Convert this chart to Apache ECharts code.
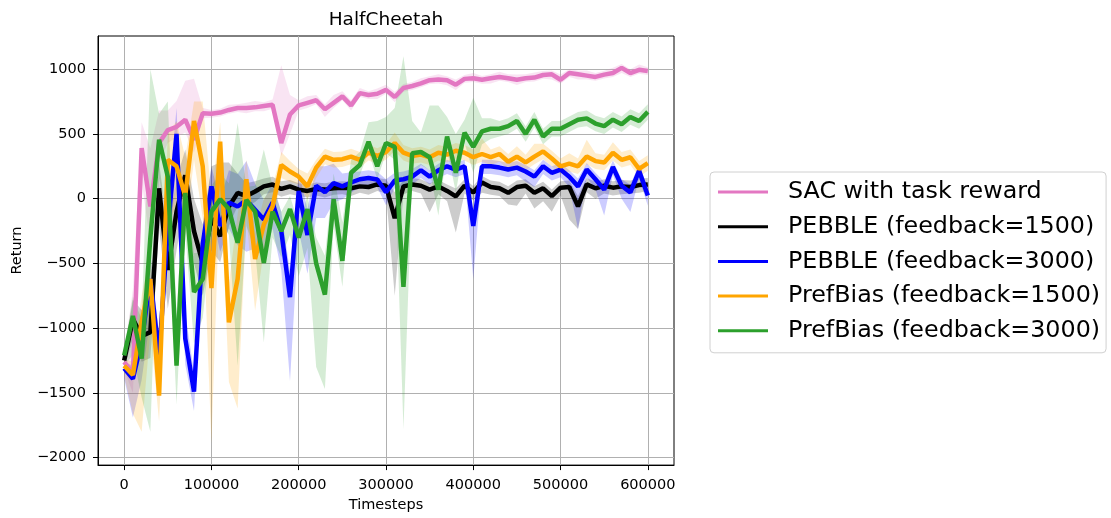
<!DOCTYPE html>
<html>
<head>
<meta charset="utf-8">
<script src="https://cdn.jsdelivr.net/npm/echarts@6/dist/echarts.min.js"></script>
<style>
html,body{margin:0;padding:0;background:#fff;}
#chart{width:1111px;height:518px;}
</style>
</head>
<body>
<div id="chart"></div>
<script>
// ---------------- data ----------------
const STEP = 10000;
const timesteps = Array.from({length: 61}, (_, i) => i * STEP);
const xTicks = [0, 100000, 200000, 300000, 400000, 500000, 600000];
const yTicks = [-2000, -1500, -1000, -500, 0, 500, 1000];

const seriesNames = ['SAC with task reward', 'PEBBLE (feedback=1500)', 'PEBBLE (feedback=3000)', 'PrefBias (feedback=1500)', 'PrefBias (feedback=3000)'];

const sac = [-1260,-1350,390,-60,430,530,555,610,455,660,655,665,685,700,700,705,715,725,430,650,720,740,760,690,740,790,720,815,800,810,840,785,855,870,890,915,920,915,880,925,930,918,930,940,930,918,930,935,955,960,918,970,960,950,940,958,970,1010,970,995,985];
const sacDown = [60,150,250,300,150,100,80,100,100,40,30,30,30,30,40,30,40,30,100,150,40,40,30,60,40,30,40,30,30,40,30,40,30,30,30,30,30,40,40,30,30,30,40,30,30,40,30,30,30,40,30,30,40,30,30,30,30,40,30,30,30];
const sacUp = [60,650,200,450,250,150,200,300,470,40,30,30,40,30,40,50,30,40,600,150,40,50,40,40,60,40,40,40,30,40,40,40,30,30,40,30,40,30,40,30,40,30,30,40,30,40,30,40,30,30,40,30,30,40,30,30,40,30,30,40,30];

const pebble1500 = [-1250,-930,-1060,-1030,80,-550,-100,180,-250,-500,-150,-290,-60,45,20,55,95,110,75,95,70,60,75,70,80,85,80,95,90,110,100,-150,95,110,100,70,95,60,18,100,48,125,90,80,45,90,100,45,80,20,85,90,-60,110,80,100,85,95,90,105,110];
const pebble1500Down = [60,150,200,200,300,300,300,200,250,250,250,200,150,100,80,80,60,60,60,60,50,50,50,60,50,50,60,50,60,50,60,600,60,50,60,175,60,80,280,60,60,80,60,60,90,145,60,120,100,120,60,250,175,60,80,60,60,60,50,60,50];
const pebble1500Up = [60,150,200,250,200,300,250,200,250,300,400,570,340,150,100,80,60,60,60,50,50,50,50,50,50,50,50,50,50,50,50,200,50,50,50,50,50,50,60,50,50,50,50,50,50,50,50,50,50,50,50,50,80,50,50,50,50,50,50,50,50];

const pebble3000 = [-1310,-1390,-1100,-620,-1210,-235,500,-1080,-1490,-350,95,-210,-30,-60,-10,-85,-160,-30,-250,-760,60,-280,100,50,120,95,125,150,160,148,50,140,150,170,220,170,220,250,225,250,-210,250,250,240,225,240,210,170,250,200,225,170,95,225,150,70,245,100,48,215,25];
const pebble3000Down = [80,300,300,300,200,200,300,200,150,100,200,200,200,300,400,300,300,200,300,650,300,300,250,200,150,100,80,60,60,60,100,60,60,60,60,60,60,60,60,60,410,60,60,60,60,60,80,80,60,60,60,80,330,60,80,200,60,100,150,60,80];
const pebble3000Up = [50,100,150,200,150,200,200,200,150,100,150,200,250,250,300,200,150,150,150,200,150,200,150,200,150,100,80,60,60,60,100,60,60,60,50,50,50,50,50,50,60,50,50,50,50,50,50,50,50,50,50,50,60,50,50,60,50,50,60,50,60];

const prefbias1500 = [-1290,-1360,-950,-620,-1520,300,250,20,600,250,-690,440,-955,-620,150,-465,-200,-60,260,210,170,95,240,325,300,305,325,300,355,330,360,430,355,330,340,320,355,340,370,355,320,345,320,345,285,325,280,325,365,310,250,270,250,325,290,280,355,300,320,230,275];
const prefbias1500Down = [80,300,850,400,200,500,300,300,300,400,1200,300,460,1000,300,400,200,150,100,80,60,100,80,60,60,60,60,60,60,60,60,60,60,60,60,60,60,60,60,60,60,60,60,60,60,60,60,60,60,60,60,60,60,60,60,60,60,60,60,60,60];
const prefbias1500Up = [50,100,200,200,300,200,350,300,150,500,700,150,300,500,150,200,200,150,100,80,60,100,60,60,60,60,60,60,60,60,60,80,60,60,60,60,60,60,60,60,60,120,60,60,60,80,60,100,60,60,60,80,60,130,60,60,80,60,60,60,60];

const prefbias3000 = [-1210,-905,-1235,-300,455,170,-1290,45,-720,-620,-100,-5,-80,-340,-10,-100,-495,-100,-250,-80,-300,-80,-500,-740,-5,-480,200,260,440,250,430,400,-680,350,360,320,70,480,200,510,400,520,540,540,560,600,500,610,480,540,540,575,610,620,580,560,610,575,630,600,670];
const prefbias3000Down = [80,300,300,1500,300,300,300,300,400,300,200,150,200,950,200,300,615,200,200,200,300,300,800,730,200,200,100,80,80,100,80,100,1100,200,100,100,200,100,150,80,200,100,80,60,60,60,60,60,60,60,60,60,60,60,60,60,60,60,60,60,60];
const prefbias3000Up = [50,150,300,1300,200,580,400,200,300,200,200,200,200,925,100,200,875,200,150,100,100,100,200,300,200,300,100,100,150,350,200,300,1780,250,150,400,650,150,300,100,380,100,80,60,60,60,60,60,60,60,60,60,60,60,60,60,60,60,60,60,60];

const colors = ['#e377c2', '#000000', '#0000ff', '#ffa500', '#2ca02c'];
const bandColors = ['#e377c2', '#000000', '#0000ff', '#ffa500', '#2ca02c'];

// ---------------- chart ----------------
const means = [sac, pebble1500, pebble3000, prefbias1500, prefbias3000];
const downs = [sacDown, pebble1500Down, pebble3000Down, prefbias1500Down, prefbias3000Down];
const ups = [sacUp, pebble1500Up, pebble3000Up, prefbias1500Up, prefbias3000Up];

const FONT = 'DejaVu Sans';
const fmt = v => (v < 0 ? '\u2212' + (-v) : String(v));

const series = [];
means.forEach((m, k) => {
  series.push({
    name: seriesNames[k] + ' band',
    type: 'custom',
    coordinateSystem: 'cartesian2d',
    silent: true,
    clip: true,
    z: 2,
    data: [[0, 0]],
    renderItem: (params, api) => {
      const pts = [];
      for (let i = 0; i < timesteps.length; i++) pts.push(api.coord([timesteps[i], m[i] + ups[k][i]]));
      for (let i = timesteps.length - 1; i >= 0; i--) pts.push(api.coord([timesteps[i], m[i] - downs[k][i]]));
      return {type: 'polygon', shape: {points: pts}, style: {fill: bandColors[k], opacity: 0.2}};
    }
  });
});
means.forEach((m, k) => {
  series.push({
    name: seriesNames[k],
    type: 'line',
    z: 3,
    symbol: 'none',
    clip: true,
    color: colors[k],
    lineStyle: {color: colors[k], width: 4.5},
    data: timesteps.map((t, i) => [t, m[i]])
  });
});

const chart = echarts.init(document.getElementById('chart'), null, {renderer: 'canvas'});
chart.setOption({
  animation: false,
  backgroundColor: '#ffffff',
  textStyle: {fontFamily: FONT},
  title: {
    text: 'HalfCheetah',
    left: 386, top: 11, padding: 0,
    textAlign: 'center',
    textStyle: {fontFamily: FONT, fontSize: 18.5, fontWeight: 'normal', color: '#000'}
  },
  grid: {left: 98, right: 437, top: 36, bottom: 51, show: true, borderColor: '#000', borderWidth: 1, backgroundColor: 'transparent'},
  legend: {
    data: seriesNames,
    orient: 'vertical',
    left: 710, top: 172,
    padding: [6, 6, 8, 8],
    itemWidth: 50, itemHeight: 3,
    itemGap: 6.7,
    icon: 'rect',
    backgroundColor: '#fff',
    borderColor: '#d0d0d0', borderWidth: 1, borderRadius: 4,
    textStyle: {fontFamily: FONT, fontSize: 23.8, lineHeight: 28, color: '#000', padding: [0, 0, 0, 15]}
  },
  xAxis: {
    type: 'value', min: -30000, max: 630000,
    name: 'Timesteps', nameLocation: 'middle', nameGap: 32,
    nameTextStyle: {fontFamily: FONT, fontSize: 14.5, color: '#000'},
    axisLine: {show: true, onZero: false, lineStyle: {color: '#000', width: 1}},
    axisTick: {show: true, inside: false, length: 5, lineStyle: {color: '#000', width: 1}, customValues: xTicks},
    axisLabel: {fontFamily: FONT, fontSize: 14.5, color: '#000', margin: 13, formatter: fmt, customValues: xTicks},
    splitLine: {show: true, lineStyle: {color: '#b0b0b0', width: 1}}
  },
  yAxis: {
    type: 'value', min: -2057, max: 1256,
    name: 'Return', nameLocation: 'middle', nameGap: 73, nameRotate: 90,
    nameTextStyle: {fontFamily: FONT, fontSize: 14.5, color: '#000'},
    axisLine: {show: true, onZero: false, lineStyle: {color: '#000', width: 1}},
    axisTick: {show: true, inside: false, length: 5, lineStyle: {color: '#000', width: 1}, customValues: yTicks},
    axisLabel: {fontFamily: FONT, fontSize: 14.5, color: '#000', margin: 12, formatter: fmt, customValues: yTicks},
    splitLine: {show: true, lineStyle: {color: '#b0b0b0', width: 1}}
  },
  series: series
});
</script>
</body>
</html>
